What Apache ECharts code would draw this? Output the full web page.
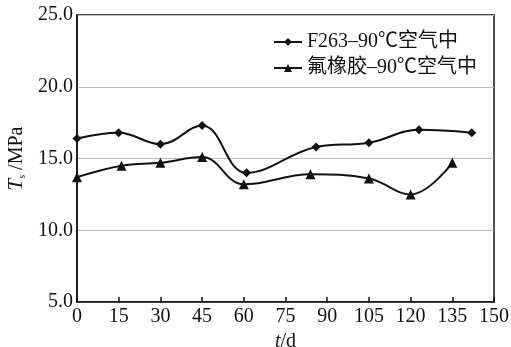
<!DOCTYPE html>
<html><head><meta charset="utf-8">
<script src="https://cdn.jsdelivr.net/npm/echarts@6/dist/echarts.min.js"></script>
<style>html,body{margin:0;padding:0;background:#fff}#c{width:511px;height:347px}</style>
</head><body><div id="c"></div>
<script>
const seriesNames = ['F263–90℃空气中', '氟橡胶–90℃空气中'];
const f263T = [0, 15, 30, 45, 61, 86, 105, 123, 142];
const f263V = [16.4, 16.8, 16.0, 17.3, 14.0, 15.8, 16.1, 17.0, 16.8];
const fkmT = [0, 16, 30, 45, 60, 84, 105, 120, 135];
const fkmV = [13.7, 14.5, 14.7, 15.1, 13.2, 13.9, 13.6, 12.5, 14.7];
const xTicks = [0, 15, 30, 45, 60, 75, 90, 105, 120, 135, 150];
const yTicks = [5, 10, 15, 20, 25];

const font = "'Liberation Serif', 'Times New Roman', 'Noto Sans CJK SC', serif";
const chart = echarts.init(document.getElementById('c'), null, {renderer: 'canvas'});
chart.setOption({
  animation: false,
  backgroundColor: '#fff',
  textStyle: {fontFamily: font, color: '#111'},
  grid: {left: 77, right: 17, top: 15, bottom: 45, show: true, borderColor: '#111', borderWidth: 1.5, backgroundColor: 'transparent', outerBoundsMode: 'none', containLabel: false},
  legend: {
    data: seriesNames, orient: 'vertical', left: 268, top: 27, itemGap: 6,
    itemWidth: 28, itemHeight: 10,
    textStyle: {fontFamily: font, fontSize: 20, color: '#111'}
  },
  xAxis: {
    type: 'value', min: xTicks[0], max: xTicks[xTicks.length - 1], interval: 15,
    axisLine: {lineStyle: {color: '#111', width: 1.5}},
    axisTick: {inside: true, length: 5, lineStyle: {color: '#111', width: 1.5}},
    axisLabel: {fontSize: 20, color: '#111', margin: 5, fontFamily: font},
    splitLine: {show: false},
    name: '{i|t}/d', nameLocation: 'middle', nameGap: 24,
    nameTextStyle: {fontSize: 20, color: '#111', fontFamily: font, rich: {i: {fontStyle: 'italic', fontSize: 20, fontFamily: font, color: '#111'}}}
  },
  yAxis: {
    type: 'value', min: yTicks[0], max: yTicks[yTicks.length - 1], interval: 5,
    axisLine: {show: true, lineStyle: {color: '#111', width: 1.5}},
    axisTick: {show: false},
    axisLabel: {fontSize: 20, color: '#111', margin: 4, fontFamily: font, formatter: v => v.toFixed(1)},
    splitLine: {show: true, lineStyle: {color: '#bbb', width: 1}},
    name: '{i|T}{s|s} /MPa', nameLocation: 'middle', nameGap: 47, nameRotate: 90,
    nameTextStyle: {fontSize: 20, color: '#111', fontFamily: font, rich: {i: {fontStyle: 'italic', fontSize: 21, fontFamily: font, color: '#111'}, s: {fontSize: 10, fontFamily: font, color: '#111', verticalAlign: 'bottom', padding: [8, 0, 0, 0]}}}
  },
  series: [
    {name: seriesNames[0], type: 'line', smooth: 0.4, data: f263T.map((t, i) => [t, f263V[i]]),
     symbol: 'diamond', symbolSize: 9, lineStyle: {color: '#111', width: 2}, itemStyle: {color: '#111'}},
    {name: seriesNames[1], type: 'line', smooth: 0.4, data: fkmT.map((t, i) => [t, fkmV[i]]),
     symbol: 'triangle', symbolSize: 10, lineStyle: {color: '#111', width: 2}, itemStyle: {color: '#111'}}
  ]
});
</script></body></html>
